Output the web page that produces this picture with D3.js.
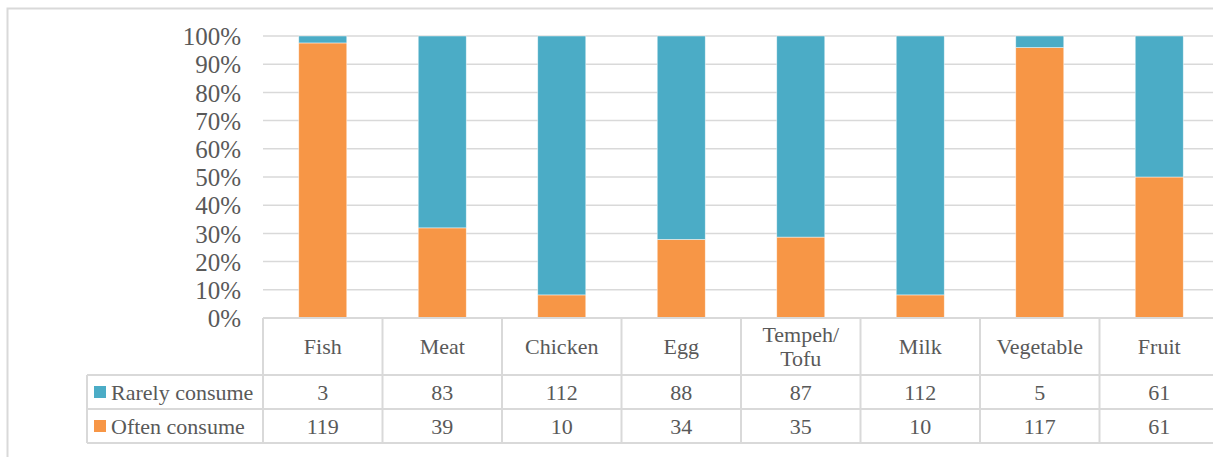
<!DOCTYPE html>
<html><head><meta charset="utf-8">
<script src="https://cdn.jsdelivr.net/npm/d3@7"></script>
<style>
html,body{margin:0;padding:0;background:#fff;}
svg{display:block;}
text{font-family:"Liberation Serif",serif;fill:#595959;}
</style></head>
<body>
<svg id="c" width="1213" height="457"></svg>
<script>
const categories = ["Fish","Meat","Chicken","Egg","Tempeh/\nTofu","Milk","Vegetable","Fruit"];
const rarely = [3,83,112,88,87,112,5,61];
const often = [119,39,10,34,35,10,117,61];
const seriesNames = ["Rarely consume","Often consume"];
const seriesColors = ["#4BACC6","#F79646"];
const yTicks = [0,0.1,0.2,0.3,0.4,0.5,0.6,0.7,0.8,0.9,1.0];

const svg = d3.select("#c");
const grid = "#D9D9D9";
const L = 263, R = 1219, T = 36, B = 318;
const rowTop = [318, 375, 409, 443];
const legendLeft = 87;

// outer frame
svg.append("path").attr("d", `M7.5,470 V8.5 H1230`).attr("fill","none").attr("stroke",grid).attr("stroke-width",2);

const x = d3.scaleBand().domain(categories).range([L,R]).paddingInner(0.598).paddingOuter(0.299);
const y = d3.scaleLinear().domain([0,1]).range([B,T]);

// gridlines
svg.append("g").selectAll("line").data(yTicks.filter(t=>t>0)).join("line")
  .attr("x1",L).attr("x2",R).attr("y1",d=>y(d)).attr("y2",d=>y(d))
  .attr("stroke",grid).attr("stroke-width",1.5);

// y-axis labels
const yAxis = d3.axisLeft(y).tickValues(yTicks).tickFormat(d3.format(".0%")).tickSize(0).tickPadding(0);
const ya = svg.append("g").attr("transform",`translate(241,0)`).call(yAxis);
ya.select(".domain").remove();
ya.selectAll("text").attr("font-size","25px").attr("fill","#595959").attr("font-family","Liberation Serif").attr("dy","0.35em");

// stacked bars (100%)
const data = categories.map((c,i)=>({cat:c, often:often[i]/(often[i]+rarely[i]), rarely:rarely[i]/(often[i]+rarely[i])}));
const stack = d3.stack().keys(["often","rarely"])(data);
const colorFor = {often:seriesColors[1], rarely:seriesColors[0]};
svg.append("g").selectAll("g").data(stack).join("g")
  .attr("fill",d=>colorFor[d.key])
  .selectAll("rect").data(d=>d).join("rect")
  .attr("x",d=>x(d.data.cat)).attr("width",x.bandwidth())
  .attr("y",d=>y(d[1])).attr("height",d=>y(d[0])-y(d[1]))
  .attr("stroke","#ffffff").attr("stroke-opacity",0.6).attr("stroke-width",0.75);

// table lines
const tg = svg.append("g").attr("stroke",grid).attr("stroke-width",2).attr("fill","none");
tg.append("line").attr("x1",L).attr("x2",R).attr("y1",rowTop[0]).attr("y2",rowTop[0]);
[1,2,3].forEach(k=>tg.append("line").attr("x1",legendLeft).attr("x2",R).attr("y1",rowTop[k]).attr("y2",rowTop[k]));
tg.append("line").attr("x1",legendLeft).attr("x2",legendLeft).attr("y1",rowTop[1]).attr("y2",rowTop[3]);
const step = x.step();
d3.range(categories.length+1).forEach(i=>{
  const xx = L + i*step;
  tg.append("line").attr("x1",xx).attr("x2",xx).attr("y1",rowTop[0]).attr("y2",rowTop[3]);
});

// header texts
const fs = 22;
const hdr = svg.append("g");
categories.forEach(c=>{
  const cx = x(c) + x.bandwidth()/2;
  const lines = c.split("\n");
  const cy = (rowTop[0]+rowTop[1])/2;
  const lh = 24;
  lines.forEach((ln,j)=>{
    hdr.append("text").attr("x",cx).attr("y",cy + (j-(lines.length-1)/2)*lh)
      .attr("dy","0.35em").attr("text-anchor","middle").attr("font-size",fs+"px").text(ln);
  });
});

// data rows
const rows = [rarely, often];
rows.forEach((vals,r)=>{
  const cy = (rowTop[r+1]+rowTop[r+2])/2;
  svg.append("rect").attr("x",94).attr("y",cy-6).attr("width",12).attr("height",12).attr("fill",seriesColors[r]);
  svg.append("text").attr("x",111).attr("y",cy).attr("dy","0.35em").attr("font-size",fs+"px").text(seriesNames[r]);
  vals.forEach((v,i)=>{
    svg.append("text").attr("x",x(categories[i])+x.bandwidth()/2).attr("y",cy).attr("dy","0.35em")
      .attr("text-anchor","middle").attr("font-size",fs+"px").text(v);
  });
});
</script>
</body></html>
